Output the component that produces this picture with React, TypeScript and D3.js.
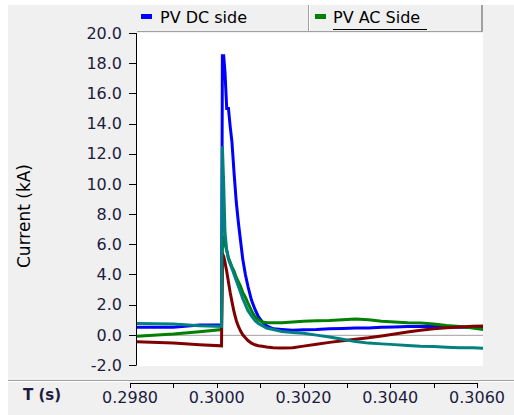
import React from "react";
import * as d3 from "d3";

// sample times (s)
const time = [
  0.2981, 0.299, 0.2996, 0.30011, 0.30013, 0.30016, 0.30019, 0.30023, 0.30027, 0.30031,
  0.30035, 0.3004, 0.30045, 0.3005, 0.30055, 0.3006, 0.30066, 0.30072, 0.3008, 0.30088,
  0.30096, 0.30105, 0.30115, 0.3013, 0.3015, 0.30175, 0.302, 0.3023, 0.3026, 0.3029,
  0.3032, 0.3035, 0.3038, 0.3041, 0.3044, 0.3047, 0.305, 0.3053, 0.3056, 0.3059, 0.3062,
];

// currents (kA)
const pvDcSide = [
  0.5, 0.5, 0.65, 0.65, 18.5, 18.5, 17.4, 15.0, 15.0, 13.8,
  12.8, 10.7, 8.8, 7.4, 6.2, 5.0, 4.0, 3.2, 2.3, 1.7,
  1.2, 0.85, 0.6, 0.4, 0.35, 0.3, 0.33, 0.35, 0.4, 0.42,
  0.45, 0.45, 0.5, 0.52, 0.55, 0.55, 0.55, 0.52, 0.5, 0.5, 0.5,
];
const pvAcSide = [
  -0.1, 0.05, 0.2, 0.35, 6.0, 6.3, 6.0, 5.6, 5.1, 4.8,
  4.5, 4.2, 3.8, 3.5, 3.2, 2.8, 2.5, 2.1, 1.6, 1.2,
  1.0, 0.85, 0.8, 0.8, 0.8, 0.85, 0.9, 0.93, 0.95, 1.0,
  1.05, 1.0, 0.9, 0.85, 0.8, 0.78, 0.72, 0.62, 0.55, 0.45, 0.33,
];
const tealTrace = [
  0.75, 0.72, 0.6, 0.55, 12.5, 10.0, 6.8, 5.6, 5.0, 4.7,
  4.4, 4.0, 3.6, 3.2, 2.8, 2.4, 2.0, 1.6, 1.25, 0.95,
  0.75, 0.6, 0.45, 0.35, 0.22, 0.15, 0.1, -0.02, -0.15, -0.3,
  -0.45, -0.55, -0.6, -0.65, -0.7, -0.75, -0.78, -0.82, -0.86, -0.86, -0.9,
];
const maroonTrace = [
  -0.45, -0.55, -0.66, -0.73, 5.4, 5.2, 4.8, 4.2, 3.5, 2.8,
  2.2, 1.5, 0.95, 0.55, 0.25, 0.0, -0.2, -0.38, -0.55, -0.66,
  -0.72, -0.76, -0.8, -0.85, -0.88, -0.85, -0.75, -0.62, -0.5, -0.4,
  -0.3, -0.2, -0.08, 0.05, 0.18, 0.3, 0.4, 0.47, 0.52, 0.56, 0.6,
];

const yTicks = [-2, 0, 2, 4, 6, 8, 10, 12, 14, 16, 18, 20];
const xTicks = [0.298, 0.299, 0.3, 0.301, 0.302, 0.303, 0.304, 0.305, 0.306];
const xLabels = [0.298, 0.3, 0.302, 0.304, 0.306];

const font = "'DejaVu Sans', sans-serif";
const ink = "#1c1c40";

export default function App() {
  const plot = { left: 137, right: 483, top: 33, bottom: 366 };
  const x = d3.scaleLinear().domain([0.298, 0.306]).range([130, 477]);
  const y = d3.scaleLinear().domain([-2, 20]).range([365, 33]);

  const line = d3
    .line<number>()
    .x((_, i) => x(time[i]))
    .y((d) => y(d));

  const traces = [
    { values: pvDcSide, color: "#0000ff" },
    { values: pvAcSide, color: "#008000" },
    { values: maroonTrace, color: "#800000" },
    { values: tealTrace, color: "#008080" },
  ];

  return (
    <svg
      width={514}
      height={415}
      style={{ position: "absolute", left: 0, top: 0, background: "#fff" }}
    >
      <defs>
        <clipPath id="plotClip">
          <rect x={plot.left} y={plot.top} width={plot.right - plot.left} height={plot.bottom - plot.top} />
        </clipPath>
      </defs>

      {/* panels */}
      <rect x={8} y={5} width={506} height={375} fill="#f0f0f0" />
      <rect x={8} y={382} width={506} height={33} fill="#f0f0f0" />
      <line x1={8} x2={514} y1={380.5} y2={380.5} stroke="#a0a0a0" />
      <line x1={8} x2={514} y1={381.5} y2={381.5} stroke="#ffffff" />

      {/* legend header */}
      <rect x={plot.left} y={5} width={plot.right - plot.left} height={27} fill="#f0f0f0" />
      <line x1={plot.left} x2={plot.right} y1={31.5} y2={31.5} stroke="#a0a0a0" />
      <line x1={482} x2={482} y1={5} y2={32} stroke="#a0a0a0" strokeWidth={2} />
      <line x1={308.5} x2={308.5} y1={5} y2={31} stroke="#a0a0a0" />
      <line x1={309.5} x2={309.5} y1={5} y2={31} stroke="#ffffff" />
      <rect x={141} y={14} width={11} height={5} fill="#0000ff" />
      <text x={160} y={23} fontFamily={font} fontSize={16} fill="#000">
        PV DC side
      </text>
      <rect x={315} y={14} width={11} height={5} fill="#008000" />
      <text x={333} y={23} fontFamily={font} fontSize={16} fill="#000">
        PV AC Side
      </text>
      <line x1={333} x2={427} y1={29.5} y2={29.5} stroke="#000" />

      {/* plot area */}
      <rect x={plot.left} y={plot.top} width={plot.right - plot.left} height={plot.bottom - plot.top} fill="#fff" />
      <line x1={plot.left} x2={plot.right} y1={y(0) + 0.5} y2={y(0) + 0.5} stroke="#a0a0a0" />
      <g clipPath="url(#plotClip)">
        {traces.map((t, i) => (
          <path key={i} d={line(t.values) ?? ""} fill="none" stroke={t.color} strokeWidth={3} strokeLinejoin="miter" />
        ))}
      </g>

      {/* y axis */}
      <line x1={136.5} x2={136.5} y1={y(20)} y2={y(-2) + 0.5} stroke="#000" />
      {yTicks.map((v) => (
        <g key={v}>
          <line x1={129} x2={136} y1={Math.round(y(v)) + 0.5} y2={Math.round(y(v)) + 0.5} stroke="#000" />
          <text
            x={122}
            y={y(v)}
            dy="0.36em"
            textAnchor="end"
            fontFamily={font}
            fontSize={16}
            fill={ink}
          >
            {v.toFixed(1)}
          </text>
        </g>
      ))}
      <text
        transform="translate(30,216) rotate(-90)"
        textAnchor="middle"
        fontFamily={font}
        fontSize={17}
        fill="#000"
      >
        Current (kA)
      </text>

      {/* x axis */}
      <line x1={x(0.298)} x2={x(0.306)} y1={383.5} y2={383.5} stroke="#000" />
      {xTicks.map((v) => (
        <line
          key={v}
          x1={Math.round(x(v)) + 0.5}
          x2={Math.round(x(v)) + 0.5}
          y1={383}
          y2={388}
          stroke="#000"
        />
      ))}
      {xLabels.map((v) => (
        <text key={v} x={x(v)} y={403} textAnchor="middle" fontFamily={font} fontSize={16} fill={ink}>
          {v.toFixed(4)}
        </text>
      ))}
      <text x={23} y={400} fontFamily={font} fontSize={15} fontWeight="bold" fill={ink}>
        T (s)
      </text>
    </svg>
  );
}
